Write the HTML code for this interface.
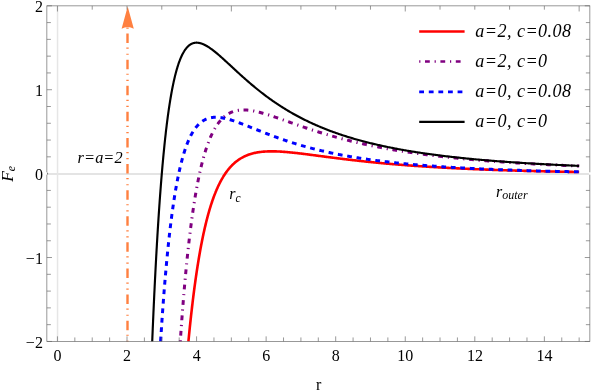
<!DOCTYPE html><html><head><meta charset="utf-8"><title>plot</title><style>html,body{margin:0;padding:0;background:#fff}svg{display:block}</style></head><body><svg width="591" height="390" viewBox="0 0 591 390">
<rect width="591" height="390" fill="#fff"/>
<line x1="47.47" y1="174" x2="589.37" y2="174" stroke="#c9c9c9" stroke-width="1"/>
<line x1="57.55" y1="6.37" x2="57.55" y2="340.95" stroke="#e6e6e6" stroke-width="1.5"/>
<g fill="none" stroke-linejoin="round">
<path d="M188.42,341.45 L188.59,339.63 L188.77,337.84 L188.94,336.06 L189.11,334.29 L189.29,332.55 L189.46,330.82 L189.64,329.10 L189.81,327.40 L189.99,325.72 L190.16,324.06 L190.34,322.41 L190.51,320.78 L190.68,319.16 L190.86,317.55 L191.03,315.97 L191.21,314.39 L191.38,312.84 L191.56,311.29 L191.73,309.77 L191.91,308.25 L192.08,306.75 L192.26,305.27 L192.43,303.80 L192.60,302.34 L192.78,300.89 L192.95,299.46 L193.13,298.05 L193.30,296.64 L193.48,295.25 L193.65,293.88 L193.83,292.51 L194.00,291.16 L194.17,289.82 L194.35,288.49 L194.52,287.18 L194.70,285.88 L194.87,284.59 L195.05,283.31 L195.22,282.05 L195.40,280.79 L195.57,279.55 L195.74,278.32 L195.92,277.10 L196.09,275.89 L196.27,274.70 L196.44,273.51 L196.62,272.34 L196.79,271.18 L196.97,270.02 L197.14,268.88 L197.32,267.75 L197.49,266.63 L197.66,265.52 L197.84,264.42 L198.01,263.33 L198.19,262.25 L198.36,261.18 L198.54,260.12 L198.71,259.07 L198.89,258.03 L199.06,257.00 L199.23,255.98 L199.41,254.97 L199.58,253.97 L199.76,252.97 L199.93,251.99 L200.11,251.01 L200.28,250.05 L200.46,249.09 L200.63,248.14 L200.80,247.20 L200.98,246.27 L201.15,245.35 L201.33,244.44 L201.50,243.53 L201.68,242.64 L201.85,241.75 L202.03,240.87 L202.20,239.99 L202.38,239.13 L202.55,238.27 L202.72,237.42 L202.90,236.58 L203.07,235.75 L203.25,234.93 L203.42,234.11 L203.60,233.30 L203.77,232.49 L203.95,231.70 L204.12,230.91 L204.29,230.13 L204.47,229.36 L204.64,228.59 L204.82,227.83 L204.99,227.08 L205.17,226.33 L205.34,225.59 L205.52,224.86 L205.69,224.13 L205.86,223.41 L206.04,222.70 L206.21,222.00 L206.39,221.30 L206.56,220.60 L206.74,219.92 L206.91,219.24 L207.09,218.56 L207.26,217.89 L207.44,217.23 L207.61,216.58 L207.78,215.93 L207.96,215.28 L208.13,214.64 L208.31,214.01 L208.48,213.38 L208.66,212.76 L208.83,212.15 L209.01,211.54 L209.18,210.94 L209.35,210.34 L209.53,209.74 L209.70,209.16 L209.88,208.57 L210.05,208.00 L210.23,207.43 L210.40,206.86 L210.58,206.30 L210.75,205.74 L210.92,205.19 L211.10,204.64 L211.27,204.10 L211.45,203.57 L211.62,203.04 L211.80,202.51 L211.97,201.99 L212.15,201.47 L212.32,200.96 L212.50,200.45 L212.67,199.95 L212.84,199.45 L213.02,198.96 L213.19,198.47 L213.37,197.98 L213.54,197.50 L213.72,197.03 L213.89,196.56 L214.07,196.09 L214.24,195.63 L214.41,195.17 L214.59,194.71 L214.76,194.26 L214.94,193.82 L215.11,193.37 L215.29,192.94 L215.46,192.50 L215.64,192.07 L215.81,191.65 L215.98,191.22 L216.16,190.81 L216.33,190.39 L216.51,189.98 L216.68,189.57 L216.86,189.17 L217.03,188.77 L217.21,188.38 L217.38,187.98 L217.55,187.60 L217.73,187.21 L217.90,186.83 L218.08,186.45 L218.25,186.08 L218.43,185.71 L218.60,185.34 L218.78,184.97 L218.95,184.61 L219.13,184.26 L219.30,183.90 L219.47,183.55 L219.65,183.20 L219.82,182.86 L220.00,182.52 L220.17,182.18 L220.35,181.84 L220.52,181.51 L220.70,181.18 L220.87,180.86 L221.04,180.54 L221.22,180.22 L221.39,179.90 L221.57,179.58 L221.74,179.27 L221.92,178.97 L222.09,178.66 L222.27,178.36 L222.44,178.06 L222.61,177.76 L222.79,177.47 L222.96,177.18 L223.14,176.89 L223.31,176.60 L223.49,176.32 L223.66,176.04 L223.84,175.76 L224.01,175.49 L224.19,175.21 L224.36,174.94 L224.53,174.68 L224.71,174.41 L224.88,174.15 L225.06,173.89 L225.23,173.63 L225.41,173.38 L225.58,173.12 L225.76,172.87 L225.93,172.63 L226.10,172.38 L226.28,172.14 L226.45,171.90 L226.63,171.66 L226.80,171.42 L226.98,171.19 L227.15,170.95 L227.33,170.72 L227.50,170.50 L227.67,170.27 L227.85,170.05 L228.02,169.83 L228.20,169.61 L228.37,169.39 L228.55,169.18 L228.72,168.96 L228.90,168.75 L229.07,168.55 L229.25,168.34 L229.42,168.13 L229.59,167.93 L229.77,167.73 L229.94,167.53 L230.12,167.33 L230.29,167.14 L230.47,166.95 L230.64,166.76 L230.82,166.57 L230.99,166.38 L231.16,166.19 L231.34,166.01 L231.51,165.83 L231.69,165.65 L231.86,165.47 L232.04,165.29 L232.21,165.12 L232.39,164.94 L232.56,164.77 L232.73,164.60 L232.91,164.43 L233.08,164.27 L233.26,164.10 L233.43,163.94 L233.61,163.78 L233.78,163.62 L233.96,163.46 L234.13,163.30 L234.31,163.15 L234.48,162.99 L234.65,162.84 L234.83,162.69 L235.00,162.54 L235.18,162.40 L235.35,162.25 L235.53,162.11 L235.70,161.96 L235.88,161.82 L236.05,161.68 L236.22,161.54 L236.40,161.40 L236.57,161.27 L236.75,161.13 L236.92,161.00 L237.10,160.87 L237.27,160.74 L237.45,160.61 L237.62,160.48 L237.79,160.36 L237.97,160.23 L238.14,160.11 L238.32,159.98 L238.49,159.86 L238.67,159.74 L238.84,159.62 L239.02,159.51 L239.19,159.39 L239.37,159.28 L239.54,159.16 L239.71,159.05 L239.89,158.94 L240.06,158.83 L240.24,158.72 L240.41,158.61 L240.59,158.50 L241.44,158.00 L242.28,157.53 L243.13,157.07 L243.98,156.65 L244.83,156.24 L245.68,155.86 L246.53,155.50 L247.37,155.16 L248.22,154.84 L249.07,154.54 L249.92,154.25 L250.77,153.99 L251.62,153.74 L252.47,153.50 L253.31,153.29 L254.16,153.08 L255.01,152.89 L255.86,152.72 L256.71,152.55 L257.56,152.40 L258.41,152.26 L259.25,152.14 L260.10,152.02 L260.95,151.92 L261.80,151.82 L262.65,151.74 L263.50,151.66 L264.35,151.59 L265.19,151.54 L266.04,151.49 L266.89,151.44 L267.74,151.41 L268.59,151.38 L269.44,151.36 L270.29,151.35 L271.13,151.34 L271.98,151.34 L272.83,151.35 L273.68,151.36 L274.53,151.37 L275.38,151.39 L276.22,151.42 L277.07,151.45 L277.92,151.48 L278.77,151.52 L279.62,151.57 L280.47,151.62 L281.32,151.67 L282.16,151.72 L283.01,151.78 L283.86,151.84 L284.71,151.91 L285.56,151.97 L286.41,152.04 L287.26,152.12 L288.10,152.19 L288.95,152.27 L289.80,152.35 L290.65,152.43 L291.50,152.52 L292.35,152.61 L293.20,152.69 L294.04,152.78 L294.89,152.88 L295.74,152.97 L296.59,153.07 L297.44,153.16 L298.29,153.26 L299.14,153.36 L299.98,153.46 L300.83,153.56 L301.68,153.66 L302.53,153.77 L303.38,153.87 L304.23,153.98 L305.07,154.08 L305.92,154.19 L306.77,154.29 L307.62,154.40 L308.47,154.51 L309.32,154.62 L310.17,154.73 L311.01,154.84 L311.86,154.95 L312.71,155.06 L313.56,155.17 L314.41,155.28 L315.26,155.39 L316.11,155.50 L316.95,155.61 L317.80,155.72 L318.65,155.84 L319.50,155.95 L320.35,156.06 L321.20,156.17 L322.05,156.28 L322.89,156.39 L323.74,156.50 L324.59,156.61 L325.44,156.73 L326.29,156.84 L327.14,156.95 L327.99,157.06 L328.83,157.17 L329.68,157.28 L330.53,157.39 L331.38,157.50 L332.23,157.60 L333.08,157.71 L333.92,157.82 L334.77,157.93 L335.62,158.04 L336.47,158.14 L337.32,158.25 L338.17,158.36 L339.02,158.46 L339.86,158.57 L340.71,158.67 L341.56,158.78 L342.41,158.88 L343.26,158.99 L344.11,159.09 L344.96,159.19 L345.80,159.30 L346.65,159.40 L347.50,159.50 L348.35,159.60 L349.20,159.70 L350.05,159.80 L350.90,159.90 L351.74,160.00 L352.59,160.10 L353.44,160.19 L354.29,160.29 L355.14,160.39 L355.99,160.48 L356.84,160.58 L357.68,160.68 L358.53,160.77 L359.38,160.86 L360.23,160.96 L361.08,161.05 L361.93,161.14 L362.77,161.23 L363.62,161.33 L364.47,161.42 L365.32,161.51 L366.17,161.60 L367.02,161.69 L367.87,161.77 L368.71,161.86 L369.56,161.95 L370.41,162.04 L371.26,162.12 L372.11,162.21 L372.96,162.29 L373.81,162.38 L374.65,162.46 L375.50,162.55 L376.35,162.63 L377.20,162.71 L378.05,162.79 L378.90,162.87 L379.75,162.96 L380.59,163.04 L381.44,163.12 L382.29,163.19 L383.14,163.27 L383.99,163.35 L384.84,163.43 L385.69,163.51 L386.53,163.58 L387.38,163.66 L388.23,163.73 L389.08,163.81 L389.93,163.88 L390.78,163.96 L391.62,164.03 L392.47,164.10 L393.32,164.18 L394.17,164.25 L395.02,164.32 L395.87,164.39 L396.72,164.46 L397.56,164.53 L398.41,164.60 L399.26,164.67 L400.11,164.74 L400.96,164.80 L401.81,164.87 L402.66,164.94 L403.50,165.00 L404.35,165.07 L405.20,165.14 L406.05,165.20 L406.90,165.27 L407.75,165.33 L408.60,165.39 L409.44,165.46 L410.29,165.52 L411.14,165.58 L411.99,165.64 L412.84,165.70 L413.69,165.77 L414.54,165.83 L415.38,165.89 L416.23,165.94 L417.08,166.00 L417.93,166.06 L418.78,166.12 L419.63,166.18 L420.47,166.24 L421.32,166.29 L422.17,166.35 L423.02,166.41 L423.87,166.46 L424.72,166.52 L425.57,166.57 L426.41,166.63 L427.26,166.68 L428.11,166.73 L428.96,166.79 L429.81,166.84 L430.66,166.89 L431.51,166.94 L432.35,167.00 L433.20,167.05 L434.05,167.10 L434.90,167.15 L435.75,167.20 L436.60,167.25 L437.45,167.30 L438.29,167.35 L439.14,167.40 L439.99,167.44 L440.84,167.49 L441.69,167.54 L442.54,167.59 L443.39,167.63 L444.23,167.68 L445.08,167.73 L445.93,167.77 L446.78,167.82 L447.63,167.86 L448.48,167.91 L449.32,167.95 L450.17,168.00 L451.02,168.04 L451.87,168.09 L452.72,168.13 L453.57,168.17 L454.42,168.21 L455.26,168.26 L456.11,168.30 L456.96,168.34 L457.81,168.38 L458.66,168.42 L459.51,168.46 L460.36,168.50 L461.20,168.54 L462.05,168.58 L462.90,168.62 L463.75,168.66 L464.60,168.70 L465.45,168.74 L466.30,168.78 L467.14,168.82 L467.99,168.85 L468.84,168.89 L469.69,168.93 L470.54,168.97 L471.39,169.00 L472.24,169.04 L473.08,169.08 L473.93,169.11 L474.78,169.15 L475.63,169.18 L476.48,169.22 L477.33,169.25 L478.17,169.29 L479.02,169.32 L479.87,169.36 L480.72,169.39 L481.57,169.42 L482.42,169.46 L483.27,169.49 L484.11,169.52 L484.96,169.56 L485.81,169.59 L486.66,169.62 L487.51,169.65 L488.36,169.68 L489.21,169.72 L490.05,169.75 L490.90,169.78 L491.75,169.81 L492.60,169.84 L493.45,169.87 L494.30,169.90 L495.15,169.93 L495.99,169.96 L496.84,169.99 L497.69,170.02 L498.54,170.05 L499.39,170.08 L500.24,170.10 L501.09,170.13 L501.93,170.16 L502.78,170.19 L503.63,170.22 L504.48,170.24 L505.33,170.27 L506.18,170.30 L507.02,170.33 L507.87,170.35 L508.72,170.38 L509.57,170.41 L510.42,170.43 L511.27,170.46 L512.12,170.48 L512.96,170.51 L513.81,170.53 L514.66,170.56 L515.51,170.58 L516.36,170.61 L517.21,170.63 L518.06,170.66 L518.90,170.68 L519.75,170.71 L520.60,170.73 L521.45,170.76 L522.30,170.78 L523.15,170.80 L524.00,170.83 L524.84,170.85 L525.69,170.87 L526.54,170.90 L527.39,170.92 L528.24,170.94 L529.09,170.96 L529.94,170.98 L530.78,171.01 L531.63,171.03 L532.48,171.05 L533.33,171.07 L534.18,171.09 L535.03,171.11 L535.87,171.14 L536.72,171.16 L537.57,171.18 L538.42,171.20 L539.27,171.22 L540.12,171.24 L540.97,171.26 L541.81,171.28 L542.66,171.30 L543.51,171.32 L544.36,171.34 L545.21,171.36 L546.06,171.38 L546.91,171.40 L547.75,171.42 L548.60,171.44 L549.45,171.45 L550.30,171.47 L551.15,171.49 L552.00,171.51 L552.85,171.53 L553.69,171.55 L554.54,171.56 L555.39,171.58 L556.24,171.60 L557.09,171.62 L557.94,171.64 L558.79,171.65 L559.63,171.67 L560.48,171.69 L561.33,171.71 L562.18,171.72 L563.03,171.74 L563.88,171.76 L564.72,171.77 L565.57,171.79 L566.42,171.81 L567.27,171.82 L568.12,171.84 L568.97,171.85 L569.82,171.87 L570.66,171.89 L571.51,171.90 L572.36,171.92 L573.21,171.93 L574.06,171.95 L574.91,171.96 L575.76,171.98 L576.60,171.99 L577.45,172.01 L578.30,172.02 L579.15,172.04" stroke="#f00" stroke-width="2.6"/>
<path d="M180.28,341.45 L180.45,338.89 L180.63,336.35 L180.80,333.84 L180.98,331.36 L181.15,328.91 L181.33,326.48 L181.50,324.07 L181.68,321.70 L181.85,319.34 L182.02,317.02 L182.20,314.71 L182.37,312.43 L182.55,310.18 L182.72,307.95 L182.90,305.74 L183.07,303.56 L183.25,301.40 L183.42,299.26 L183.59,297.14 L183.77,295.05 L183.94,292.98 L184.12,290.93 L184.29,288.90 L184.47,286.90 L184.64,284.91 L184.82,282.95 L184.99,281.00 L185.16,279.08 L185.34,277.18 L185.51,275.30 L185.69,273.43 L185.86,271.59 L186.04,269.77 L186.21,267.96 L186.39,266.18 L186.56,264.41 L186.74,262.66 L186.91,260.93 L187.08,259.22 L187.26,257.52 L187.43,255.85 L187.61,254.19 L187.78,252.55 L187.96,250.92 L188.13,249.32 L188.31,247.72 L188.48,246.15 L188.65,244.59 L188.83,243.05 L189.00,241.53 L189.18,240.02 L189.35,238.53 L189.53,237.05 L189.70,235.59 L189.88,234.14 L190.05,232.71 L190.22,231.29 L190.40,229.89 L190.57,228.50 L190.75,227.13 L190.92,225.77 L191.10,224.43 L191.27,223.10 L191.45,221.78 L191.62,220.48 L191.80,219.19 L191.97,217.91 L192.14,216.65 L192.32,215.40 L192.49,214.17 L192.67,212.94 L192.84,211.73 L193.02,210.54 L193.19,209.35 L193.37,208.18 L193.54,207.02 L193.71,205.87 L193.89,204.74 L194.06,203.61 L194.24,202.50 L194.41,201.40 L194.59,200.31 L194.76,199.23 L194.94,198.17 L195.11,197.11 L195.28,196.07 L195.46,195.03 L195.63,194.01 L195.81,193.00 L195.98,192.00 L196.16,191.01 L196.33,190.03 L196.51,189.06 L196.68,188.10 L196.86,187.15 L197.03,186.21 L197.20,185.28 L197.38,184.36 L197.55,183.45 L197.73,182.55 L197.90,181.66 L198.08,180.77 L198.25,179.90 L198.43,179.04 L198.60,178.19 L198.77,177.34 L198.95,176.50 L199.12,175.68 L199.30,174.86 L199.47,174.05 L199.65,173.25 L199.82,172.45 L200.00,171.67 L200.17,170.89 L200.34,170.13 L200.52,169.37 L200.69,168.61 L200.87,167.87 L201.04,167.14 L201.22,166.41 L201.39,165.69 L201.57,164.97 L201.74,164.27 L201.92,163.57 L202.09,162.88 L202.26,162.20 L202.44,161.53 L202.61,160.86 L202.79,160.20 L202.96,159.54 L203.14,158.90 L203.31,158.26 L203.49,157.62 L203.66,157.00 L203.83,156.38 L204.01,155.77 L204.18,155.16 L204.36,154.56 L204.53,153.97 L204.71,153.38 L204.88,152.80 L205.06,152.23 L205.23,151.66 L205.40,151.10 L205.58,150.55 L205.75,150.00 L205.93,149.45 L206.10,148.92 L206.28,148.38 L206.45,147.86 L206.63,147.34 L206.80,146.83 L206.98,146.32 L207.15,145.81 L207.32,145.32 L207.50,144.83 L207.67,144.34 L207.85,143.86 L208.02,143.38 L208.20,142.91 L208.37,142.45 L208.55,141.99 L208.72,141.53 L208.89,141.08 L209.07,140.64 L209.24,140.20 L209.42,139.76 L209.59,139.34 L209.77,138.91 L209.94,138.49 L210.12,138.07 L210.29,137.66 L210.46,137.26 L210.64,136.86 L210.81,136.46 L210.99,136.07 L211.16,135.68 L211.34,135.30 L211.51,134.92 L211.69,134.54 L211.86,134.17 L212.04,133.81 L212.21,133.44 L212.38,133.09 L212.56,132.73 L212.73,132.38 L212.91,132.04 L213.08,131.70 L213.26,131.36 L213.43,131.03 L213.61,130.70 L213.78,130.37 L213.95,130.05 L214.13,129.73 L214.30,129.42 L214.48,129.11 L214.65,128.80 L214.83,128.50 L215.00,128.20 L215.18,127.90 L215.35,127.61 L215.52,127.32 L215.70,127.04 L215.87,126.75 L216.05,126.48 L216.22,126.20 L216.40,125.93 L216.57,125.66 L216.75,125.40 L216.92,125.13 L217.10,124.88 L217.27,124.62 L217.44,124.37 L217.62,124.12 L217.79,123.87 L217.97,123.63 L218.14,123.39 L218.32,123.15 L218.49,122.92 L218.67,122.69 L218.84,122.46 L219.01,122.24 L219.19,122.01 L219.36,121.80 L219.54,121.58 L219.71,121.37 L219.89,121.16 L220.06,120.95 L220.24,120.74 L220.41,120.54 L220.58,120.34 L220.76,120.14 L220.93,119.95 L221.11,119.76 L221.28,119.57 L221.46,119.38 L221.63,119.19 L221.81,119.01 L221.98,118.83 L222.16,118.66 L222.33,118.48 L222.50,118.31 L222.68,118.14 L222.85,117.97 L223.03,117.81 L223.20,117.64 L223.38,117.48 L223.55,117.33 L223.73,117.17 L223.90,117.02 L224.07,116.86 L224.25,116.72 L224.42,116.57 L224.60,116.42 L224.77,116.28 L224.95,116.14 L225.12,116.00 L225.30,115.86 L225.47,115.73 L225.64,115.60 L225.82,115.47 L225.99,115.34 L226.17,115.21 L226.34,115.09 L226.52,114.96 L226.69,114.84 L226.87,114.73 L227.04,114.61 L227.21,114.49 L227.39,114.38 L227.56,114.27 L227.74,114.16 L227.91,114.05 L228.09,113.95 L228.26,113.84 L228.44,113.74 L228.61,113.64 L228.79,113.54 L228.96,113.44 L229.13,113.35 L229.31,113.25 L229.48,113.16 L229.66,113.07 L229.83,112.98 L230.01,112.89 L230.18,112.81 L230.36,112.72 L230.53,112.64 L230.70,112.56 L230.88,112.48 L231.05,112.40 L231.23,112.32 L231.40,112.25 L231.58,112.17 L231.75,112.10 L231.93,112.03 L232.10,111.96 L232.27,111.89 L232.45,111.83 L233.32,111.52 L234.19,111.24 L235.06,110.99 L235.93,110.77 L236.79,110.58 L237.66,110.42 L238.53,110.28 L239.40,110.17 L240.27,110.09 L241.14,110.02 L242.01,109.98 L242.88,109.95 L243.75,109.95 L244.61,109.96 L245.48,109.99 L246.35,110.04 L247.22,110.10 L248.09,110.18 L248.96,110.27 L249.83,110.38 L250.70,110.50 L251.57,110.63 L252.43,110.78 L253.30,110.93 L254.17,111.09 L255.04,111.27 L255.91,111.45 L256.78,111.65 L257.65,111.85 L258.52,112.06 L259.39,112.27 L260.25,112.50 L261.12,112.73 L261.99,112.97 L262.86,113.21 L263.73,113.46 L264.60,113.71 L265.47,113.97 L266.34,114.23 L267.21,114.50 L268.08,114.77 L268.94,115.05 L269.81,115.33 L270.68,115.61 L271.55,115.89 L272.42,116.18 L273.29,116.47 L274.16,116.77 L275.03,117.06 L275.90,117.36 L276.76,117.66 L277.63,117.96 L278.50,118.26 L279.37,118.56 L280.24,118.87 L281.11,119.17 L281.98,119.48 L282.85,119.79 L283.72,120.09 L284.58,120.40 L285.45,120.71 L286.32,121.02 L287.19,121.33 L288.06,121.64 L288.93,121.95 L289.80,122.25 L290.67,122.56 L291.54,122.87 L292.41,123.18 L293.27,123.49 L294.14,123.79 L295.01,124.10 L295.88,124.41 L296.75,124.71 L297.62,125.01 L298.49,125.32 L299.36,125.62 L300.23,125.92 L301.09,126.22 L301.96,126.52 L302.83,126.82 L303.70,127.12 L304.57,127.41 L305.44,127.71 L306.31,128.00 L307.18,128.29 L308.05,128.58 L308.91,128.87 L309.78,129.16 L310.65,129.45 L311.52,129.73 L312.39,130.02 L313.26,130.30 L314.13,130.58 L315.00,130.86 L315.87,131.14 L316.74,131.42 L317.60,131.69 L318.47,131.96 L319.34,132.24 L320.21,132.51 L321.08,132.78 L321.95,133.04 L322.82,133.31 L323.69,133.57 L324.56,133.84 L325.42,134.10 L326.29,134.36 L327.16,134.61 L328.03,134.87 L328.90,135.13 L329.77,135.38 L330.64,135.63 L331.51,135.88 L332.38,136.13 L333.24,136.37 L334.11,136.62 L334.98,136.86 L335.85,137.10 L336.72,137.34 L337.59,137.58 L338.46,137.82 L339.33,138.05 L340.20,138.29 L341.06,138.52 L341.93,138.75 L342.80,138.98 L343.67,139.20 L344.54,139.43 L345.41,139.65 L346.28,139.88 L347.15,140.10 L348.02,140.32 L348.89,140.53 L349.75,140.75 L350.62,140.96 L351.49,141.18 L352.36,141.39 L353.23,141.60 L354.10,141.81 L354.97,142.01 L355.84,142.22 L356.71,142.42 L357.57,142.62 L358.44,142.83 L359.31,143.03 L360.18,143.22 L361.05,143.42 L361.92,143.61 L362.79,143.81 L363.66,144.00 L364.53,144.19 L365.39,144.38 L366.26,144.57 L367.13,144.76 L368.00,144.94 L368.87,145.12 L369.74,145.31 L370.61,145.49 L371.48,145.67 L372.35,145.85 L373.22,146.02 L374.08,146.20 L374.95,146.37 L375.82,146.55 L376.69,146.72 L377.56,146.89 L378.43,147.06 L379.30,147.23 L380.17,147.39 L381.04,147.56 L381.90,147.72 L382.77,147.89 L383.64,148.05 L384.51,148.21 L385.38,148.37 L386.25,148.53 L387.12,148.68 L387.99,148.84 L388.86,149.00 L389.72,149.15 L390.59,149.30 L391.46,149.45 L392.33,149.60 L393.20,149.75 L394.07,149.90 L394.94,150.05 L395.81,150.19 L396.68,150.34 L397.54,150.48 L398.41,150.62 L399.28,150.76 L400.15,150.90 L401.02,151.04 L401.89,151.18 L402.76,151.32 L403.63,151.46 L404.50,151.59 L405.37,151.73 L406.23,151.86 L407.10,151.99 L407.97,152.12 L408.84,152.25 L409.71,152.38 L410.58,152.51 L411.45,152.64 L412.32,152.76 L413.19,152.89 L414.05,153.01 L414.92,153.14 L415.79,153.26 L416.66,153.38 L417.53,153.50 L418.40,153.62 L419.27,153.74 L420.14,153.86 L421.01,153.98 L421.87,154.10 L422.74,154.21 L423.61,154.33 L424.48,154.44 L425.35,154.55 L426.22,154.67 L427.09,154.78 L427.96,154.89 L428.83,155.00 L429.70,155.11 L430.56,155.22 L431.43,155.32 L432.30,155.43 L433.17,155.54 L434.04,155.64 L434.91,155.75 L435.78,155.85 L436.65,155.95 L437.52,156.05 L438.38,156.16 L439.25,156.26 L440.12,156.36 L440.99,156.46 L441.86,156.55 L442.73,156.65 L443.60,156.75 L444.47,156.85 L445.34,156.94 L446.20,157.04 L447.07,157.13 L447.94,157.23 L448.81,157.32 L449.68,157.41 L450.55,157.50 L451.42,157.59 L452.29,157.68 L453.16,157.77 L454.02,157.86 L454.89,157.95 L455.76,158.04 L456.63,158.13 L457.50,158.21 L458.37,158.30 L459.24,158.39 L460.11,158.47 L460.98,158.55 L461.85,158.64 L462.71,158.72 L463.58,158.80 L464.45,158.89 L465.32,158.97 L466.19,159.05 L467.06,159.13 L467.93,159.21 L468.80,159.29 L469.67,159.37 L470.53,159.44 L471.40,159.52 L472.27,159.60 L473.14,159.68 L474.01,159.75 L474.88,159.83 L475.75,159.90 L476.62,159.98 L477.49,160.05 L478.35,160.12 L479.22,160.20 L480.09,160.27 L480.96,160.34 L481.83,160.41 L482.70,160.48 L483.57,160.55 L484.44,160.62 L485.31,160.69 L486.18,160.76 L487.04,160.83 L487.91,160.90 L488.78,160.97 L489.65,161.03 L490.52,161.10 L491.39,161.17 L492.26,161.23 L493.13,161.30 L494.00,161.36 L494.86,161.43 L495.73,161.49 L496.60,161.55 L497.47,161.62 L498.34,161.68 L499.21,161.74 L500.08,161.81 L500.95,161.87 L501.82,161.93 L502.68,161.99 L503.55,162.05 L504.42,162.11 L505.29,162.17 L506.16,162.23 L507.03,162.29 L507.90,162.35 L508.77,162.40 L509.64,162.46 L510.51,162.52 L511.37,162.57 L512.24,162.63 L513.11,162.69 L513.98,162.74 L514.85,162.80 L515.72,162.85 L516.59,162.91 L517.46,162.96 L518.33,163.02 L519.19,163.07 L520.06,163.12 L520.93,163.18 L521.80,163.23 L522.67,163.28 L523.54,163.33 L524.41,163.39 L525.28,163.44 L526.15,163.49 L527.01,163.54 L527.88,163.59 L528.75,163.64 L529.62,163.69 L530.49,163.74 L531.36,163.79 L532.23,163.84 L533.10,163.88 L533.97,163.93 L534.83,163.98 L535.70,164.03 L536.57,164.08 L537.44,164.12 L538.31,164.17 L539.18,164.22 L540.05,164.26 L540.92,164.31 L541.79,164.35 L542.66,164.40 L543.52,164.44 L544.39,164.49 L545.26,164.53 L546.13,164.58 L547.00,164.62 L547.87,164.66 L548.74,164.71 L549.61,164.75 L550.48,164.79 L551.34,164.84 L552.21,164.88 L553.08,164.92 L553.95,164.96 L554.82,165.00 L555.69,165.04 L556.56,165.08 L557.43,165.13 L558.30,165.17 L559.16,165.21 L560.03,165.25 L560.90,165.29 L561.77,165.33 L562.64,165.36 L563.51,165.40 L564.38,165.44 L565.25,165.48 L566.12,165.52 L566.99,165.56 L567.85,165.60 L568.72,165.63 L569.59,165.67 L570.46,165.71 L571.33,165.75 L572.20,165.78 L573.07,165.82 L573.94,165.85 L574.81,165.89 L575.67,165.93 L576.54,165.96 L577.41,166.00 L578.28,166.03 L579.15,166.07" stroke="#800080" stroke-width="3" stroke-dasharray="1.2 4.6 4.8 4.846"/>
<path d="M160.60,341.45 L160.77,338.67 L160.95,335.93 L161.12,333.21 L161.30,330.53 L161.47,327.88 L161.64,325.26 L161.82,322.67 L161.99,320.11 L162.17,317.58 L162.34,315.08 L162.52,312.61 L162.69,310.17 L162.87,307.76 L163.04,305.37 L163.21,303.02 L163.39,300.69 L163.56,298.38 L163.74,296.11 L163.91,293.86 L164.09,291.64 L164.26,289.44 L164.44,287.27 L164.61,285.12 L164.78,283.00 L164.96,280.91 L165.13,278.84 L165.31,276.79 L165.48,274.76 L165.66,272.76 L165.83,270.79 L166.01,268.83 L166.18,266.90 L166.36,264.99 L166.53,263.11 L166.70,261.24 L166.88,259.40 L167.05,257.58 L167.23,255.78 L167.40,254.00 L167.58,252.24 L167.75,250.50 L167.93,248.79 L168.10,247.09 L168.27,245.41 L168.45,243.75 L168.62,242.11 L168.80,240.49 L168.97,238.89 L169.15,237.31 L169.32,235.74 L169.50,234.20 L169.67,232.67 L169.84,231.16 L170.02,229.67 L170.19,228.19 L170.37,226.74 L170.54,225.29 L170.72,223.87 L170.89,222.46 L171.07,221.07 L171.24,219.70 L171.42,218.34 L171.59,217.00 L171.76,215.67 L171.94,214.36 L172.11,213.06 L172.29,211.78 L172.46,210.51 L172.64,209.26 L172.81,208.03 L172.99,206.80 L173.16,205.60 L173.33,204.40 L173.51,203.22 L173.68,202.06 L173.86,200.91 L174.03,199.77 L174.21,198.64 L174.38,197.53 L174.56,196.43 L174.73,195.35 L174.90,194.27 L175.08,193.21 L175.25,192.17 L175.43,191.13 L175.60,190.11 L175.78,189.10 L175.95,188.10 L176.13,187.11 L176.30,186.13 L176.48,185.17 L176.65,184.22 L176.82,183.28 L177.00,182.35 L177.17,181.43 L177.35,180.52 L177.52,179.62 L177.70,178.73 L177.87,177.86 L178.05,176.99 L178.22,176.14 L178.39,175.29 L178.57,174.46 L178.74,173.63 L178.92,172.82 L179.09,172.01 L179.27,171.22 L179.44,170.43 L179.62,169.65 L179.79,168.89 L179.96,168.13 L180.14,167.38 L180.31,166.64 L180.49,165.91 L180.66,165.19 L180.84,164.48 L181.01,163.77 L181.19,163.08 L181.36,162.39 L181.54,161.71 L181.71,161.04 L181.88,160.38 L182.06,159.72 L182.23,159.08 L182.41,158.44 L182.58,157.81 L182.76,157.19 L182.93,156.57 L183.11,155.96 L183.28,155.36 L183.45,154.77 L183.63,154.19 L183.80,153.61 L183.98,153.04 L184.15,152.47 L184.33,151.92 L184.50,151.37 L184.68,150.82 L184.85,150.29 L185.02,149.76 L185.20,149.24 L185.37,148.72 L185.55,148.21 L185.72,147.71 L185.90,147.21 L186.07,146.72 L186.25,146.24 L186.42,145.76 L186.60,145.29 L186.77,144.82 L186.94,144.36 L187.12,143.91 L187.29,143.46 L187.47,143.02 L187.64,142.58 L187.82,142.15 L187.99,141.73 L188.17,141.31 L188.34,140.90 L188.51,140.49 L188.69,140.08 L188.86,139.69 L189.04,139.29 L189.21,138.91 L189.39,138.52 L189.56,138.15 L189.74,137.77 L189.91,137.41 L190.08,137.04 L190.26,136.69 L190.43,136.33 L190.61,135.99 L190.78,135.64 L190.96,135.31 L191.13,134.97 L191.31,134.64 L191.48,134.32 L191.66,134.00 L191.83,133.68 L192.00,133.37 L192.18,133.06 L192.35,132.76 L192.53,132.46 L192.70,132.17 L192.88,131.88 L193.05,131.59 L193.23,131.31 L193.40,131.03 L193.57,130.76 L193.75,130.49 L193.92,130.22 L194.10,129.96 L194.27,129.70 L194.45,129.44 L194.62,129.19 L194.80,128.94 L194.97,128.70 L195.14,128.46 L195.32,128.22 L195.49,127.99 L195.67,127.76 L195.84,127.53 L196.02,127.31 L196.19,127.09 L196.37,126.88 L196.54,126.66 L196.72,126.45 L196.89,126.25 L197.06,126.04 L197.24,125.84 L197.41,125.65 L197.59,125.45 L197.76,125.26 L197.94,125.08 L198.11,124.89 L198.29,124.71 L198.46,124.53 L198.63,124.36 L198.81,124.18 L198.98,124.01 L199.16,123.85 L199.33,123.68 L199.51,123.52 L199.68,123.36 L199.86,123.21 L200.03,123.05 L200.20,122.90 L200.38,122.75 L200.55,122.61 L200.73,122.46 L200.90,122.32 L201.08,122.18 L201.25,122.05 L201.43,121.92 L201.60,121.79 L201.78,121.66 L201.95,121.53 L202.12,121.41 L202.30,121.29 L202.47,121.17 L202.65,121.05 L202.82,120.94 L203.00,120.82 L203.17,120.71 L203.35,120.61 L203.52,120.50 L203.69,120.40 L203.87,120.30 L204.04,120.20 L204.22,120.10 L204.39,120.00 L204.57,119.91 L204.74,119.82 L204.92,119.73 L205.09,119.64 L205.26,119.56 L205.44,119.47 L205.61,119.39 L205.79,119.31 L205.96,119.23 L206.14,119.16 L206.31,119.08 L206.49,119.01 L206.66,118.94 L206.84,118.87 L207.01,118.80 L207.18,118.74 L207.36,118.68 L207.53,118.61 L207.71,118.55 L207.88,118.49 L208.06,118.44 L208.23,118.38 L208.41,118.33 L208.58,118.27 L208.75,118.22 L208.93,118.17 L209.10,118.13 L209.28,118.08 L209.45,118.04 L209.63,117.99 L209.80,117.95 L209.98,117.91 L210.15,117.87 L210.32,117.83 L210.50,117.80 L210.67,117.76 L210.85,117.73 L211.02,117.70 L211.20,117.67 L211.37,117.64 L211.55,117.61 L211.72,117.58 L211.89,117.56 L212.07,117.53 L212.24,117.51 L212.42,117.49 L212.59,117.47 L212.77,117.45 L213.69,117.36 L214.60,117.31 L215.52,117.29 L216.44,117.30 L217.36,117.33 L218.28,117.38 L219.20,117.46 L220.11,117.56 L221.03,117.68 L221.95,117.83 L222.87,117.98 L223.79,118.16 L224.70,118.35 L225.62,118.56 L226.54,118.78 L227.46,119.01 L228.38,119.25 L229.30,119.51 L230.21,119.78 L231.13,120.06 L232.05,120.34 L232.97,120.64 L233.89,120.94 L234.81,121.25 L235.72,121.56 L236.64,121.89 L237.56,122.21 L238.48,122.55 L239.40,122.89 L240.31,123.23 L241.23,123.58 L242.15,123.93 L243.07,124.28 L243.99,124.63 L244.91,124.99 L245.82,125.35 L246.74,125.72 L247.66,126.08 L248.58,126.45 L249.50,126.81 L250.42,127.18 L251.33,127.55 L252.25,127.92 L253.17,128.29 L254.09,128.66 L255.01,129.02 L255.93,129.39 L256.84,129.76 L257.76,130.13 L258.68,130.50 L259.60,130.86 L260.52,131.23 L261.43,131.59 L262.35,131.95 L263.27,132.31 L264.19,132.67 L265.11,133.03 L266.03,133.39 L266.94,133.74 L267.86,134.10 L268.78,134.45 L269.70,134.80 L270.62,135.15 L271.54,135.49 L272.45,135.84 L273.37,136.18 L274.29,136.52 L275.21,136.85 L276.13,137.19 L277.05,137.52 L277.96,137.85 L278.88,138.18 L279.80,138.51 L280.72,138.83 L281.64,139.15 L282.55,139.47 L283.47,139.78 L284.39,140.10 L285.31,140.41 L286.23,140.72 L287.15,141.02 L288.06,141.33 L288.98,141.63 L289.90,141.93 L290.82,142.23 L291.74,142.52 L292.66,142.81 L293.57,143.10 L294.49,143.39 L295.41,143.67 L296.33,143.95 L297.25,144.23 L298.16,144.51 L299.08,144.78 L300.00,145.05 L300.92,145.32 L301.84,145.59 L302.76,145.85 L303.67,146.11 L304.59,146.37 L305.51,146.63 L306.43,146.89 L307.35,147.14 L308.27,147.39 L309.18,147.64 L310.10,147.88 L311.02,148.12 L311.94,148.36 L312.86,148.60 L313.78,148.84 L314.69,149.07 L315.61,149.31 L316.53,149.53 L317.45,149.76 L318.37,149.99 L319.28,150.21 L320.20,150.43 L321.12,150.65 L322.04,150.87 L322.96,151.08 L323.88,151.29 L324.79,151.50 L325.71,151.71 L326.63,151.92 L327.55,152.12 L328.47,152.32 L329.39,152.52 L330.30,152.72 L331.22,152.92 L332.14,153.11 L333.06,153.31 L333.98,153.50 L334.89,153.68 L335.81,153.87 L336.73,154.06 L337.65,154.24 L338.57,154.42 L339.49,154.60 L340.40,154.78 L341.32,154.95 L342.24,155.13 L343.16,155.30 L344.08,155.47 L345.00,155.64 L345.91,155.81 L346.83,155.97 L347.75,156.14 L348.67,156.30 L349.59,156.46 L350.51,156.62 L351.42,156.78 L352.34,156.94 L353.26,157.09 L354.18,157.24 L355.10,157.40 L356.01,157.55 L356.93,157.69 L357.85,157.84 L358.77,157.99 L359.69,158.13 L360.61,158.27 L361.52,158.42 L362.44,158.56 L363.36,158.69 L364.28,158.83 L365.20,158.97 L366.12,159.10 L367.03,159.24 L367.95,159.37 L368.87,159.50 L369.79,159.63 L370.71,159.76 L371.63,159.88 L372.54,160.01 L373.46,160.13 L374.38,160.26 L375.30,160.38 L376.22,160.50 L377.13,160.62 L378.05,160.74 L378.97,160.86 L379.89,160.97 L380.81,161.09 L381.73,161.20 L382.64,161.31 L383.56,161.43 L384.48,161.54 L385.40,161.65 L386.32,161.76 L387.24,161.86 L388.15,161.97 L389.07,162.07 L389.99,162.18 L390.91,162.28 L391.83,162.39 L392.74,162.49 L393.66,162.59 L394.58,162.69 L395.50,162.79 L396.42,162.88 L397.34,162.98 L398.25,163.08 L399.17,163.17 L400.09,163.26 L401.01,163.36 L401.93,163.45 L402.85,163.54 L403.76,163.63 L404.68,163.72 L405.60,163.81 L406.52,163.90 L407.44,163.98 L408.36,164.07 L409.27,164.16 L410.19,164.24 L411.11,164.32 L412.03,164.41 L412.95,164.49 L413.86,164.57 L414.78,164.65 L415.70,164.73 L416.62,164.81 L417.54,164.89 L418.46,164.97 L419.37,165.05 L420.29,165.12 L421.21,165.20 L422.13,165.27 L423.05,165.35 L423.97,165.42 L424.88,165.49 L425.80,165.56 L426.72,165.64 L427.64,165.71 L428.56,165.78 L429.47,165.85 L430.39,165.92 L431.31,165.98 L432.23,166.05 L433.15,166.12 L434.07,166.19 L434.98,166.25 L435.90,166.32 L436.82,166.38 L437.74,166.45 L438.66,166.51 L439.58,166.57 L440.49,166.63 L441.41,166.70 L442.33,166.76 L443.25,166.82 L444.17,166.88 L445.09,166.94 L446.00,167.00 L446.92,167.05 L447.84,167.11 L448.76,167.17 L449.68,167.23 L450.59,167.28 L451.51,167.34 L452.43,167.39 L453.35,167.45 L454.27,167.50 L455.19,167.56 L456.10,167.61 L457.02,167.66 L457.94,167.72 L458.86,167.77 L459.78,167.82 L460.70,167.87 L461.61,167.92 L462.53,167.97 L463.45,168.02 L464.37,168.07 L465.29,168.12 L466.20,168.17 L467.12,168.22 L468.04,168.26 L468.96,168.31 L469.88,168.36 L470.80,168.41 L471.71,168.45 L472.63,168.50 L473.55,168.54 L474.47,168.59 L475.39,168.63 L476.31,168.68 L477.22,168.72 L478.14,168.76 L479.06,168.80 L479.98,168.85 L480.90,168.89 L481.82,168.93 L482.73,168.97 L483.65,169.01 L484.57,169.05 L485.49,169.09 L486.41,169.14 L487.32,169.17 L488.24,169.21 L489.16,169.25 L490.08,169.29 L491.00,169.33 L491.92,169.37 L492.83,169.41 L493.75,169.44 L494.67,169.48 L495.59,169.52 L496.51,169.55 L497.43,169.59 L498.34,169.63 L499.26,169.66 L500.18,169.70 L501.10,169.73 L502.02,169.77 L502.94,169.80 L503.85,169.83 L504.77,169.87 L505.69,169.90 L506.61,169.93 L507.53,169.97 L508.44,170.00 L509.36,170.03 L510.28,170.06 L511.20,170.10 L512.12,170.13 L513.04,170.16 L513.95,170.19 L514.87,170.22 L515.79,170.25 L516.71,170.28 L517.63,170.31 L518.55,170.34 L519.46,170.37 L520.38,170.40 L521.30,170.43 L522.22,170.46 L523.14,170.49 L524.05,170.52 L524.97,170.54 L525.89,170.57 L526.81,170.60 L527.73,170.63 L528.65,170.65 L529.56,170.68 L530.48,170.71 L531.40,170.73 L532.32,170.76 L533.24,170.79 L534.16,170.81 L535.07,170.84 L535.99,170.86 L536.91,170.89 L537.83,170.91 L538.75,170.94 L539.67,170.96 L540.58,170.99 L541.50,171.01 L542.42,171.04 L543.34,171.06 L544.26,171.08 L545.17,171.11 L546.09,171.13 L547.01,171.15 L547.93,171.18 L548.85,171.20 L549.77,171.22 L550.68,171.25 L551.60,171.27 L552.52,171.29 L553.44,171.31 L554.36,171.33 L555.28,171.36 L556.19,171.38 L557.11,171.40 L558.03,171.42 L558.95,171.44 L559.87,171.46 L560.78,171.48 L561.70,171.50 L562.62,171.52 L563.54,171.54 L564.46,171.56 L565.38,171.58 L566.29,171.60 L567.21,171.62 L568.13,171.64 L569.05,171.66 L569.97,171.68 L570.89,171.70 L571.80,171.72 L572.72,171.73 L573.64,171.75 L574.56,171.77 L575.48,171.79 L576.40,171.81 L577.31,171.82 L578.23,171.84 L579.15,171.86" stroke="#00f" stroke-width="3" stroke-dasharray="4.74 4.74"/>
<path d="M152.22,341.45 L152.39,337.19 L152.57,332.98 L152.74,328.83 L152.92,324.73 L153.09,320.69 L153.27,316.70 L153.44,312.76 L153.62,308.87 L153.79,305.03 L153.97,301.25 L154.14,297.51 L154.31,293.82 L154.49,290.18 L154.66,286.59 L154.84,283.04 L155.01,279.54 L155.19,276.09 L155.36,272.68 L155.54,269.31 L155.71,265.99 L155.88,262.72 L156.06,259.48 L156.23,256.29 L156.41,253.14 L156.58,250.03 L156.76,246.96 L156.93,243.93 L157.11,240.94 L157.28,238.00 L157.45,235.08 L157.63,232.21 L157.80,229.38 L157.98,226.58 L158.15,223.82 L158.33,221.09 L158.50,218.40 L158.68,215.75 L158.85,213.13 L159.03,210.54 L159.20,207.99 L159.37,205.48 L159.55,202.99 L159.72,200.54 L159.90,198.12 L160.07,195.73 L160.25,193.38 L160.42,191.05 L160.60,188.76 L160.77,186.50 L160.94,184.26 L161.12,182.06 L161.29,179.88 L161.47,177.74 L161.64,175.62 L161.82,173.53 L161.99,171.47 L162.17,169.43 L162.34,167.43 L162.51,165.45 L162.69,163.49 L162.86,161.56 L163.04,159.66 L163.21,157.79 L163.39,155.93 L163.56,154.11 L163.74,152.31 L163.91,150.53 L164.09,148.77 L164.26,147.04 L164.43,145.34 L164.61,143.65 L164.78,141.99 L164.96,140.35 L165.13,138.73 L165.31,137.14 L165.48,135.57 L165.66,134.01 L165.83,132.48 L166.00,130.97 L166.18,129.48 L166.35,128.02 L166.53,126.57 L166.70,125.14 L166.88,123.73 L167.05,122.34 L167.23,120.97 L167.40,119.62 L167.57,118.28 L167.75,116.97 L167.92,115.67 L168.10,114.39 L168.27,113.13 L168.45,111.89 L168.62,110.66 L168.80,109.46 L168.97,108.26 L169.15,107.09 L169.32,105.93 L169.49,104.79 L169.67,103.66 L169.84,102.55 L170.02,101.46 L170.19,100.38 L170.37,99.32 L170.54,98.27 L170.72,97.24 L170.89,96.22 L171.06,95.21 L171.24,94.22 L171.41,93.25 L171.59,92.29 L171.76,91.34 L171.94,90.41 L172.11,89.49 L172.29,88.58 L172.46,87.69 L172.63,86.81 L172.81,85.95 L172.98,85.09 L173.16,84.25 L173.33,83.42 L173.51,82.61 L173.68,81.80 L173.86,81.01 L174.03,80.23 L174.21,79.46 L174.38,78.71 L174.55,77.96 L174.73,77.23 L174.90,76.50 L175.08,75.79 L175.25,75.09 L175.43,74.40 L175.60,73.72 L175.78,73.06 L175.95,72.40 L176.12,71.75 L176.30,71.11 L176.47,70.49 L176.65,69.87 L176.82,69.26 L177.00,68.66 L177.17,68.08 L177.35,67.50 L177.52,66.93 L177.69,66.37 L177.87,65.82 L178.04,65.28 L178.22,64.74 L178.39,64.22 L178.57,63.71 L178.74,63.20 L178.92,62.70 L179.09,62.21 L179.27,61.73 L179.44,61.26 L179.61,60.79 L179.79,60.34 L179.96,59.89 L180.14,59.45 L180.31,59.01 L180.49,58.59 L180.66,58.17 L180.84,57.76 L181.01,57.35 L181.18,56.96 L181.36,56.57 L181.53,56.19 L181.71,55.81 L181.88,55.45 L182.06,55.09 L182.23,54.73 L182.41,54.38 L182.58,54.04 L182.75,53.71 L182.93,53.38 L183.10,53.06 L183.28,52.75 L183.45,52.44 L183.63,52.14 L183.80,51.84 L183.98,51.55 L184.15,51.26 L184.32,50.99 L184.50,50.71 L184.67,50.45 L184.85,50.19 L185.02,49.93 L185.20,49.68 L185.37,49.44 L185.55,49.20 L185.72,48.96 L185.90,48.74 L186.07,48.51 L186.24,48.29 L186.42,48.08 L186.59,47.87 L186.77,47.67 L186.94,47.47 L187.12,47.28 L187.29,47.09 L187.47,46.91 L187.64,46.73 L187.81,46.55 L187.99,46.38 L188.16,46.22 L188.34,46.06 L188.51,45.90 L188.69,45.75 L188.86,45.60 L189.04,45.46 L189.21,45.32 L189.38,45.19 L189.56,45.05 L189.73,44.93 L189.91,44.80 L190.08,44.69 L190.26,44.57 L190.43,44.46 L190.61,44.35 L190.78,44.25 L190.96,44.15 L191.13,44.05 L191.30,43.96 L191.48,43.87 L191.65,43.79 L191.83,43.71 L192.00,43.63 L192.18,43.55 L192.35,43.48 L192.53,43.41 L192.70,43.35 L192.87,43.29 L193.05,43.23 L193.22,43.17 L193.40,43.12 L193.57,43.07 L193.75,43.03 L193.92,42.98 L194.10,42.94 L194.27,42.91 L194.44,42.87 L194.62,42.84 L194.79,42.81 L194.97,42.79 L195.14,42.76 L195.32,42.74 L195.49,42.73 L195.67,42.71 L195.84,42.70 L196.02,42.69 L196.19,42.68 L196.36,42.68 L196.54,42.68 L196.71,42.68 L196.89,42.68 L197.06,42.69 L197.24,42.70 L197.41,42.71 L197.59,42.72 L197.76,42.73 L197.93,42.75 L198.11,42.77 L198.28,42.79 L198.46,42.82 L198.63,42.84 L198.81,42.87 L198.98,42.90 L199.16,42.93 L199.33,42.97 L199.50,43.00 L199.68,43.04 L199.85,43.08 L200.03,43.13 L200.20,43.17 L200.38,43.22 L200.55,43.27 L200.73,43.32 L200.90,43.37 L201.08,43.42 L201.25,43.48 L201.42,43.53 L201.60,43.59 L201.77,43.65 L201.95,43.71 L202.12,43.78 L202.30,43.84 L202.47,43.91 L202.65,43.98 L202.82,44.05 L202.99,44.12 L203.17,44.20 L203.34,44.27 L203.52,44.35 L203.69,44.43 L203.87,44.51 L204.04,44.59 L204.22,44.67 L204.39,44.75 L205.33,45.23 L206.27,45.74 L207.21,46.28 L208.15,46.86 L209.09,47.47 L210.03,48.10 L210.97,48.76 L211.90,49.45 L212.84,50.15 L213.78,50.88 L214.72,51.62 L215.66,52.38 L216.60,53.15 L217.54,53.94 L218.48,54.74 L219.42,55.55 L220.36,56.37 L221.30,57.20 L222.24,58.04 L223.18,58.88 L224.11,59.73 L225.05,60.59 L225.99,61.45 L226.93,62.31 L227.87,63.17 L228.81,64.04 L229.75,64.91 L230.69,65.78 L231.63,66.65 L232.57,67.52 L233.51,68.39 L234.45,69.26 L235.39,70.13 L236.32,70.99 L237.26,71.86 L238.20,72.72 L239.14,73.57 L240.08,74.43 L241.02,75.28 L241.96,76.13 L242.90,76.97 L243.84,77.81 L244.78,78.64 L245.72,79.47 L246.66,80.30 L247.60,81.12 L248.53,81.93 L249.47,82.74 L250.41,83.54 L251.35,84.34 L252.29,85.13 L253.23,85.92 L254.17,86.70 L255.11,87.48 L256.05,88.25 L256.99,89.01 L257.93,89.77 L258.87,90.52 L259.81,91.26 L260.75,92.00 L261.68,92.74 L262.62,93.46 L263.56,94.18 L264.50,94.90 L265.44,95.60 L266.38,96.31 L267.32,97.00 L268.26,97.69 L269.20,98.37 L270.14,99.05 L271.08,99.72 L272.02,100.38 L272.96,101.04 L273.89,101.69 L274.83,102.33 L275.77,102.97 L276.71,103.60 L277.65,104.23 L278.59,104.85 L279.53,105.47 L280.47,106.07 L281.41,106.68 L282.35,107.27 L283.29,107.86 L284.23,108.45 L285.17,109.03 L286.10,109.60 L287.04,110.17 L287.98,110.73 L288.92,111.29 L289.86,111.84 L290.80,112.38 L291.74,112.92 L292.68,113.45 L293.62,113.98 L294.56,114.51 L295.50,115.02 L296.44,115.54 L297.38,116.04 L298.32,116.55 L299.25,117.04 L300.19,117.53 L301.13,118.02 L302.07,118.50 L303.01,118.98 L303.95,119.45 L304.89,119.92 L305.83,120.38 L306.77,120.84 L307.71,121.29 L308.65,121.74 L309.59,122.19 L310.53,122.62 L311.46,123.06 L312.40,123.49 L313.34,123.92 L314.28,124.34 L315.22,124.75 L316.16,125.17 L317.10,125.58 L318.04,125.98 L318.98,126.38 L319.92,126.78 L320.86,127.17 L321.80,127.56 L322.74,127.94 L323.67,128.32 L324.61,128.70 L325.55,129.07 L326.49,129.44 L327.43,129.80 L328.37,130.17 L329.31,130.52 L330.25,130.88 L331.19,131.23 L332.13,131.57 L333.07,131.92 L334.01,132.26 L334.95,132.59 L335.88,132.93 L336.82,133.26 L337.76,133.58 L338.70,133.91 L339.64,134.23 L340.58,134.54 L341.52,134.86 L342.46,135.17 L343.40,135.47 L344.34,135.78 L345.28,136.08 L346.22,136.38 L347.16,136.67 L348.10,136.97 L349.03,137.26 L349.97,137.54 L350.91,137.83 L351.85,138.11 L352.79,138.38 L353.73,138.66 L354.67,138.93 L355.61,139.20 L356.55,139.47 L357.49,139.73 L358.43,140.00 L359.37,140.26 L360.31,140.51 L361.24,140.77 L362.18,141.02 L363.12,141.27 L364.06,141.52 L365.00,141.76 L365.94,142.00 L366.88,142.24 L367.82,142.48 L368.76,142.72 L369.70,142.95 L370.64,143.18 L371.58,143.41 L372.52,143.64 L373.45,143.86 L374.39,144.08 L375.33,144.30 L376.27,144.52 L377.21,144.74 L378.15,144.95 L379.09,145.17 L380.03,145.38 L380.97,145.58 L381.91,145.79 L382.85,145.99 L383.79,146.20 L384.73,146.40 L385.67,146.60 L386.60,146.79 L387.54,146.99 L388.48,147.18 L389.42,147.37 L390.36,147.56 L391.30,147.75 L392.24,147.93 L393.18,148.12 L394.12,148.30 L395.06,148.48 L396.00,148.66 L396.94,148.84 L397.88,149.02 L398.81,149.19 L399.75,149.36 L400.69,149.53 L401.63,149.70 L402.57,149.87 L403.51,150.04 L404.45,150.20 L405.39,150.37 L406.33,150.53 L407.27,150.69 L408.21,150.85 L409.15,151.01 L410.09,151.17 L411.02,151.32 L411.96,151.47 L412.90,151.63 L413.84,151.78 L414.78,151.93 L415.72,152.08 L416.66,152.22 L417.60,152.37 L418.54,152.51 L419.48,152.66 L420.42,152.80 L421.36,152.94 L422.30,153.08 L423.23,153.22 L424.17,153.35 L425.11,153.49 L426.05,153.63 L426.99,153.76 L427.93,153.89 L428.87,154.02 L429.81,154.15 L430.75,154.28 L431.69,154.41 L432.63,154.54 L433.57,154.66 L434.51,154.79 L435.45,154.91 L436.38,155.03 L437.32,155.16 L438.26,155.28 L439.20,155.40 L440.14,155.52 L441.08,155.63 L442.02,155.75 L442.96,155.87 L443.90,155.98 L444.84,156.09 L445.78,156.21 L446.72,156.32 L447.66,156.43 L448.59,156.54 L449.53,156.65 L450.47,156.76 L451.41,156.86 L452.35,156.97 L453.29,157.08 L454.23,157.18 L455.17,157.28 L456.11,157.39 L457.05,157.49 L457.99,157.59 L458.93,157.69 L459.87,157.79 L460.80,157.89 L461.74,157.99 L462.68,158.09 L463.62,158.18 L464.56,158.28 L465.50,158.37 L466.44,158.47 L467.38,158.56 L468.32,158.65 L469.26,158.75 L470.20,158.84 L471.14,158.93 L472.08,159.02 L473.02,159.11 L473.95,159.20 L474.89,159.28 L475.83,159.37 L476.77,159.46 L477.71,159.54 L478.65,159.63 L479.59,159.71 L480.53,159.80 L481.47,159.88 L482.41,159.96 L483.35,160.04 L484.29,160.12 L485.23,160.20 L486.16,160.28 L487.10,160.36 L488.04,160.44 L488.98,160.52 L489.92,160.60 L490.86,160.67 L491.80,160.75 L492.74,160.83 L493.68,160.90 L494.62,160.98 L495.56,161.05 L496.50,161.12 L497.44,161.20 L498.37,161.27 L499.31,161.34 L500.25,161.41 L501.19,161.48 L502.13,161.55 L503.07,161.62 L504.01,161.69 L504.95,161.76 L505.89,161.83 L506.83,161.90 L507.77,161.96 L508.71,162.03 L509.65,162.10 L510.58,162.16 L511.52,162.23 L512.46,162.29 L513.40,162.36 L514.34,162.42 L515.28,162.48 L516.22,162.55 L517.16,162.61 L518.10,162.67 L519.04,162.73 L519.98,162.79 L520.92,162.85 L521.86,162.91 L522.80,162.97 L523.73,163.03 L524.67,163.09 L525.61,163.15 L526.55,163.21 L527.49,163.27 L528.43,163.32 L529.37,163.38 L530.31,163.44 L531.25,163.49 L532.19,163.55 L533.13,163.60 L534.07,163.66 L535.01,163.71 L535.94,163.77 L536.88,163.82 L537.82,163.87 L538.76,163.93 L539.70,163.98 L540.64,164.03 L541.58,164.08 L542.52,164.13 L543.46,164.19 L544.40,164.24 L545.34,164.29 L546.28,164.34 L547.22,164.39 L548.15,164.44 L549.09,164.48 L550.03,164.53 L550.97,164.58 L551.91,164.63 L552.85,164.68 L553.79,164.72 L554.73,164.77 L555.67,164.82 L556.61,164.87 L557.55,164.91 L558.49,164.96 L559.43,165.00 L560.37,165.05 L561.30,165.09 L562.24,165.14 L563.18,165.18 L564.12,165.23 L565.06,165.27 L566.00,165.31 L566.94,165.36 L567.88,165.40 L568.82,165.44 L569.76,165.48 L570.70,165.52 L571.64,165.57 L572.58,165.61 L573.51,165.65 L574.45,165.69 L575.39,165.73 L576.33,165.77 L577.27,165.81 L578.21,165.85 L579.15,165.89" stroke="#000" stroke-width="2.15"/>
</g>
<line x1="127.50" y1="341.45" x2="127.50" y2="27.5" stroke="#ff8040" stroke-width="2.4" stroke-dasharray="1.2 4.9 1.2 4.5 9.5 4.8" stroke-dashoffset="0.5"/>
<path d="M127.70,6.4 L133.80,28.8 Q127.70,25.4 121.60,28.8 Z" fill="#ff8040"/>
<g stroke="#666" stroke-width="0.67" fill="none">
<rect x="46.87" y="5.87" width="543.00" height="335.58"/>
<path d="M57.45,341.45 v-5.10 M57.45,5.87 v5.60 M74.84,341.45 v-4.00 M92.23,341.45 v-4.00 M92.23,5.87 v3.80 M109.62,341.45 v-4.00 M127.01,341.45 v-5.10 M127.01,5.87 v3.80 M144.40,341.45 v-4.00 M161.79,341.45 v-4.00 M161.79,5.87 v3.80 M179.18,341.45 v-4.00 M196.57,341.45 v-5.10 M196.57,5.87 v3.80 M213.96,341.45 v-4.00 M231.35,341.45 v-4.00 M231.35,5.87 v5.60 M248.74,341.45 v-4.00 M266.13,341.45 v-5.10 M266.13,5.87 v3.80 M283.52,341.45 v-4.00 M300.91,341.45 v-4.00 M300.91,5.87 v3.80 M318.30,341.45 v-4.00 M335.69,341.45 v-5.10 M335.69,5.87 v3.80 M353.08,341.45 v-4.00 M370.47,341.45 v-4.00 M370.47,5.87 v3.80 M387.86,341.45 v-4.00 M405.25,341.45 v-5.10 M405.25,5.87 v5.60 M422.64,341.45 v-4.00 M440.03,341.45 v-4.00 M440.03,5.87 v3.80 M457.42,341.45 v-4.00 M474.81,341.45 v-5.10 M474.81,5.87 v3.80 M492.20,341.45 v-4.00 M509.59,341.45 v-4.00 M509.59,5.87 v3.80 M526.98,341.45 v-4.00 M544.37,341.45 v-5.10 M544.37,5.87 v3.80 M561.76,341.45 v-4.00 M579.15,341.45 v-4.00 M579.15,5.87 v5.60 M46.87,341.44 h5.10 M589.87,341.44 h-5.10 M46.87,324.66 h4.00 M589.87,324.66 h-4.00 M46.87,307.88 h4.00 M589.87,307.88 h-4.00 M46.87,291.10 h4.00 M589.87,291.10 h-4.00 M46.87,274.32 h4.00 M589.87,274.32 h-4.00 M46.87,257.53 h5.10 M589.87,257.53 h-5.10 M46.87,240.75 h4.00 M589.87,240.75 h-4.00 M46.87,223.97 h4.00 M589.87,223.97 h-4.00 M46.87,207.19 h4.00 M589.87,207.19 h-4.00 M46.87,190.41 h4.00 M589.87,190.41 h-4.00 M46.87,156.84 h4.00 M589.87,156.84 h-4.00 M46.87,140.06 h4.00 M589.87,140.06 h-4.00 M46.87,123.28 h4.00 M589.87,123.28 h-4.00 M46.87,106.50 h4.00 M589.87,106.50 h-4.00 M46.87,89.72 h5.10 M589.87,89.72 h-5.10 M46.87,72.93 h4.00 M589.87,72.93 h-4.00 M46.87,56.15 h4.00 M589.87,56.15 h-4.00 M46.87,39.37 h4.00 M589.87,39.37 h-4.00 M46.87,22.59 h4.00 M589.87,22.59 h-4.00 M46.87,5.81 h5.10 M589.87,5.81 h-5.10"/>
</g>
<rect x="46" y="172.3" width="1.2" height="2.4" fill="#fff"/>
<rect x="47.05" y="172.8" width="1" height="1.7" fill="#777"/>
<rect x="588.9" y="172.3" width="2.1" height="2.4" fill="#fff"/>
<g font-family="'Liberation Serif',serif" font-size="16" fill="#000">
<text x="57.55" y="361.4" text-anchor="middle">0</text>
<text x="127.11" y="361.4" text-anchor="middle">2</text>
<text x="196.67" y="361.4" text-anchor="middle">4</text>
<text x="266.23" y="361.4" text-anchor="middle">6</text>
<text x="335.79" y="361.4" text-anchor="middle">8</text>
<text x="405.35" y="361.4" text-anchor="middle">10</text>
<text x="474.91" y="361.4" text-anchor="middle">12</text>
<text x="544.47" y="361.4" text-anchor="middle">14</text>
<text x="42.9" y="12.41" text-anchor="end">2</text>
<text x="42.9" y="96.31" text-anchor="end">1</text>
<text x="42.9" y="180.22" text-anchor="end">0</text>
<text x="42.9" y="264.13" text-anchor="end">−1</text>
<text x="42.9" y="348.05" text-anchor="end">−2</text>
<text x="316" y="389.7">r</text>
<g font-style="italic">
<text x="77.6" y="163.3" font-size="16.3" textLength="45" lengthAdjust="spacing">r=a=2</text>
<text x="229.3" y="199">r<tspan font-size="11.5" dy="2.8">c</tspan></text>
<text x="496" y="196.6">r<tspan font-size="12" dy="2.1">outer</tspan></text>
<text transform="translate(13.2,181.7) rotate(-90)" font-size="17.2">F<tspan font-size="11.8" dy="2">e</tspan></text>
</g>
<g font-style="italic" font-size="18.1" letter-spacing="0.45">
<text x="475.3" y="36.70">a=2, c=0.08</text>
<text x="475.3" y="66.75">a=2, c=0</text>
<text x="475.3" y="96.80">a=0, c=0.08</text>
<text x="475.3" y="126.85">a=0, c=0</text>
</g>
</g>
<g fill="none">
<line x1="419.2" x2="464.6" y1="31.60" y2="31.60" stroke="#f00" stroke-width="2.5"/>
<line x1="419.2" x2="464.6" y1="61.50" y2="61.50" stroke="#800080" stroke-width="2.5" stroke-dasharray="1.2 4.6 4.8 4.8"/>
<line x1="419.2" x2="464.6" y1="91.90" y2="91.90" stroke="#00f" stroke-width="2.6" stroke-dasharray="4.8 4.8"/>
<line x1="419.2" x2="464.6" y1="121.85" y2="121.85" stroke="#000" stroke-width="2.3"/>
</g>
</svg></body></html>
